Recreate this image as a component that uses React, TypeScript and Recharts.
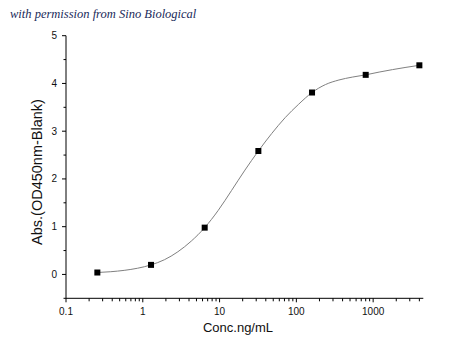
import React from "react"
import {
  ComposedChart,
  Line,
  Scatter,
  XAxis,
  YAxis,
  Label,
} from "recharts"

// measured standards (5-fold dilution series)
const conc = [0.256, 1.28, 6.4, 32, 160, 800, 4000]
const absorbance = [0.04, 0.2, 0.98, 2.585, 3.81, 4.18, 4.38]

// fitted curve
const curveConc = [
  0.256, 0.383, 0.572, 0.856, 1.28, 1.914, 2.862, 4.28, 6.4, 9.57, 14.31,
  21.4, 32, 47.8, 71.5, 107, 160, 239, 358, 535, 800, 1196, 1789, 2675, 4000,
]
const curveAbs = [
  0.04, 0.057, 0.085, 0.13, 0.2, 0.308, 0.474, 0.698, 0.98, 1.338, 1.757,
  2.185, 2.585, 2.952, 3.284, 3.564, 3.81, 3.976, 4.072, 4.133, 4.18, 4.238,
  4.29, 4.337, 4.38,
]

const majorX = [0.1, 1, 10, 100, 1000]
const xTicks = [
  0.1, 0.2, 0.3, 0.4, 0.5, 0.6, 0.7, 0.8, 0.9,
  1, 2, 3, 4, 5, 6, 7, 8, 9,
  10, 20, 30, 40, 50, 60, 70, 80, 90,
  100, 200, 300, 400, 500, 600, 700, 800, 900,
  1000, 2000, 3000, 4000,
]
const yTicks = [-0.5, 0, 0.5, 1, 1.5, 2, 2.5, 3, 3.5, 4, 4.5, 5]

const points = conc.map((x, i) => ({ x, y: absorbance[i] }))
const curve = curveConc.map((x, i) => ({ x, y: curveAbs[i] }))

const font = "'Liberation Sans', Arial, sans-serif"

const XTick = (props: any) => {
  const { x, y, payload } = props
  const major = majorX.includes(payload.value)
  return (
    <g>
      <line x1={x} y1={y} x2={x} y2={y + (major ? 4 : 3)} stroke="#000" />
      {major && (
        <text x={x} y={y + 17} textAnchor="middle" fontSize={10} fontFamily={font} fill="#111">
          {payload.value}
        </text>
      )}
    </g>
  )
}

const YTick = (props: any) => {
  const { x, y, payload } = props
  const major = Number.isInteger(payload.value)
  return (
    <g>
      <line x1={x} y1={y} x2={x - (major ? 4 : 2.5)} y2={y} stroke="#000" />
      {major && (
        <text x={x - 9} y={y + 3.5} textAnchor="end" fontSize={10} fontFamily={font} fill="#111">
          {payload.value}
        </text>
      )}
    </g>
  )
}

const Square = (props: any) => {
  const { cx, cy } = props
  return <rect x={cx - 3} y={cy - 3} width={6} height={6} fill="#000" />
}

export default function App() {
  return (
    <div style={{ position: "absolute", left: 0, top: 0, width: 450, height: 361, background: "#fff" }}>
      <div
        style={{
          position: "absolute",
          left: 10,
          top: 7,
          fontFamily: "'Liberation Serif', 'DejaVu Serif', serif",
          fontStyle: "italic",
          fontSize: 12.5,
          color: "#1a2a5a",
          whiteSpace: "nowrap",
        }}
      >
        with permission from Sino Biological
      </div>
      <ComposedChart
        width={450}
        height={361}
        margin={{ top: 35.7, right: 26.7, bottom: 22.7, left: 6 }}
      >
        <XAxis
          dataKey="x"
          type="number"
          scale="log"
          domain={[0.1, 4500]}
          allowDataOverflow
          ticks={xTicks}
          interval={0}
          tick={<XTick />}
          tickSize={0}
          tickMargin={0}
          height={40}
          stroke="#000"
        >
          <Label
            content={() => (
              <text x={238} y={332} textAnchor="middle" fontSize={13} fontFamily={font} fill="#111">
                Conc.ng/mL
              </text>
            )}
          />
        </XAxis>
        <YAxis
          type="number"
          domain={[-0.5, 5]}
          ticks={yTicks}
          interval={0}
          tick={<YTick />}
          tickSize={0}
          tickMargin={0}
          width={60}
          stroke="#000"
        >
          <Label
            content={() => (
              <text
                x={38}
                y={172}
                transform="rotate(-90 38 172)"
                textAnchor="middle"
                dominantBaseline="middle"
                fontSize={14.5}
                fontFamily={font}
                fill="#111"
              >
                Abs.(OD450nm-Blank)
              </text>
            )}
          />
        </YAxis>
        <Line
          data={curve}
          dataKey="y"
          type="monotone"
          stroke="#808080"
          strokeWidth={1}
          dot={false}
          isAnimationActive={false}
        />
        <Scatter data={points} dataKey="y" shape={<Square />} isAnimationActive={false} />
      </ComposedChart>
    </div>
  )
}
